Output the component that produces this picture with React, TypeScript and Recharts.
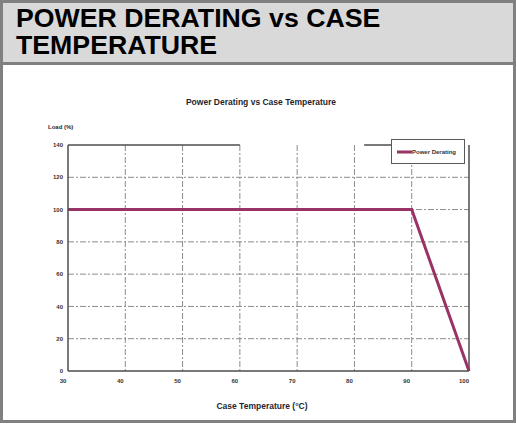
import React from 'react'
import { LineChart, Line, XAxis, YAxis, CartesianGrid, Legend, ReferenceLine } from 'recharts'

// case temperature (°C) vs allowed load (%)
const caseTemps = [30, 90, 100]
const loadPct = [100, 100, 0]
const tempTicks = [30, 40, 50, 60, 70, 80, 90, 100]
const loadTicks = [0, 20, 40, 60, 80, 100, 120, 140]
const gridTemps = [40, 50, 60, 70, 80, 90]
const gridLoads = [20, 40, 60, 80, 100, 120]
const seriesName = 'Power Derating'
const headerLines = ['POWER DERATING vs CASE', 'TEMPERATURE']

const data = caseTemps.map((t, i) => ({ temp: t, load: loadPct[i] }))

const LINE_COLOR = '#993366'
const AXIS_COLOR = '#4d4d4d'
const FONT = '"Liberation Sans", Arial, sans-serif'

function LegendBox() {
  return (
    <div
      style={{
        boxSizing: 'border-box',
        width: 74,
        height: 25,
        border: '1px solid #595959',
        background: '#fff',
        display: 'flex',
        alignItems: 'center',
        paddingLeft: 5,
        fontFamily: FONT,
        fontSize: 6,
        fontWeight: 'bold',
        color: '#333',
      }}
    >
      <svg width={15} height={4} style={{ display: 'block' }}>
        <line x1={0} y1={2} x2={15} y2={2} stroke={LINE_COLOR} strokeWidth={3} />
      </svg>
      <span>{seriesName}</span>
    </div>
  )
}

export default function App() {
  return (
    <div
      style={{
        position: 'absolute',
        left: 0,
        top: 0,
        width: 516,
        height: 426,
        background: '#fff',
        fontFamily: FONT,
      }}
    >
      <div
        style={{
          position: 'absolute',
          left: 0,
          top: 0,
          width: 516,
          height: 423,
          boxSizing: 'border-box',
          border: '3px solid #808080',
        }}
      />
      <div
        style={{
          position: 'absolute',
          left: 3,
          top: 3,
          width: 510,
          height: 59,
          background: '#d9d9d9',
          borderBottom: '3px solid #808080',
        }}
      />
      {headerLines.map((txt, i) => (
        <div
          key={txt}
          style={{
            position: 'absolute',
            left: 16,
            top: 5 + i * 27,
            height: 27,
            fontSize: 26.7,
            lineHeight: '27px',
            fontWeight: 'bold',
            color: '#000',
            whiteSpace: 'nowrap',
          }}
        >
          {txt}
        </div>
      ))}

      <div
        style={{
          position: 'absolute',
          left: 0,
          width: 522,
          top: 97,
          textAlign: 'center',
          fontSize: 8.5,
          fontWeight: 'bold',
          color: '#1f1f2e',
        }}
      >
        Power Derating vs Case Temperature
      </div>
      <div
        style={{
          position: 'absolute',
          left: 48,
          top: 124,
          fontSize: 6,
          fontWeight: 'bold',
          color: '#1f1f2e',
        }}
      >
        Load (%)
      </div>
      <div
        style={{
          position: 'absolute',
          left: 0,
          width: 524,
          top: 401,
          textAlign: 'center',
          fontSize: 8.5,
          fontWeight: 'bold',
          color: '#1f1f2e',
        }}
      >
        Case Temperature (°C)
      </div>

      <div style={{ position: 'absolute', left: 0, top: 0 }}>
        <LineChart
          width={516}
          height={426}
          data={data}
          margin={{ top: 145, right: 47, bottom: 25, left: 48 }}
        >
          <CartesianGrid
            stroke="#8c8c8c"
            strokeDasharray="6 2 2 2"
            horizontalValues={gridLoads}
            verticalValues={gridTemps}
          />
          <XAxis
            dataKey="temp"
            type="number"
            domain={[30, 100]}
            ticks={tempTicks}
            height={30}
            tickLine={false}
            axisLine={{ stroke: AXIS_COLOR, strokeWidth: 1.5 }}
            tick={{ fontSize: 6, fill: '#333', fontWeight: 'bold', dx: -5 }}
            tickSize={6}
            tickMargin={2}
            interval={0}
          />
          <YAxis
            type="number"
            domain={[0, 140]}
            ticks={loadTicks}
            width={20}
            tickLine={false}
            axisLine={{ stroke: AXIS_COLOR, strokeWidth: 1.5 }}
            tick={{ fontSize: 6, fill: '#333', fontWeight: 'bold' }}
            tickSize={3}
            tickMargin={2}
            interval={0}
          />
          <ReferenceLine x={100} stroke={AXIS_COLOR} strokeWidth={1.5} />
          <ReferenceLine
            segment={[{ x: 30, y: 140 }, { x: 60, y: 140 }]}
            stroke={AXIS_COLOR}
            strokeWidth={1.5}
          />
          <ReferenceLine
            segment={[{ x: 81.7, y: 140 }, { x: 86.4, y: 140 }]}
            stroke={AXIS_COLOR}
            strokeWidth={1.5}
          />
          <Legend
            layout="vertical"
            align="center"
            verticalAlign="middle"
            content={() => <LegendBox />}
            wrapperStyle={{ top: 139, left: 391, width: 74, height: 25 }}
          />
          <Line
            type="linear"
            dataKey="load"
            name={seriesName}
            stroke={LINE_COLOR}
            strokeWidth={3}
            dot={false}
            activeDot={false}
            isAnimationActive={false}
          />
        </LineChart>
      </div>
    </div>
  )
}
